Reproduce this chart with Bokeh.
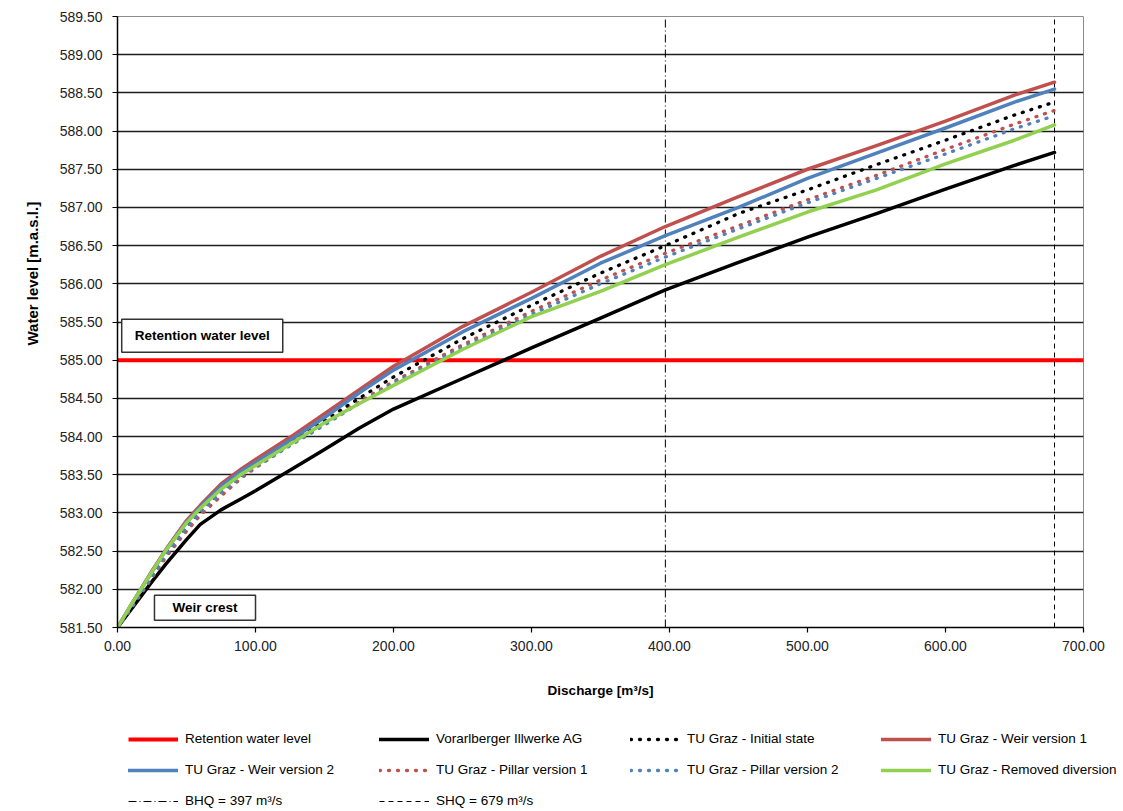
from bokeh.plotting import figure
from bokeh.layouts import column
from bokeh.models import (Range1d, FixedTicker, NumeralTickFormatter, Legend,
                          LegendItem, Label, Title)
from bokeh.embed import file_html
from bokeh.resources import INLINE

# ---------------- data ----------------
discharge = [0, 10, 25, 35, 50, 60, 75, 90, 100, 125, 150, 175, 200,
             250, 300, 350, 397, 450, 500, 550, 600, 650, 679]

vorarlberger = [581.50, 581.74, 582.10, 582.33, 582.65, 582.85, 583.04, 583.19, 583.29, 583.56,
                583.83, 584.11, 584.36,
                584.76, 585.16, 585.55, 585.92, 586.28, 586.61, 586.92, 587.24, 587.55, 587.72]
initial_state = [581.50, 581.78, 582.20, 582.47, 582.82, 583.02, 583.28, 583.49, 583.62, 583.92,
                 584.21, 584.50, 584.78,
                 585.28, 585.72, 586.14, 586.50, 586.92, 587.23, 587.56, 587.88, 588.21, 588.38]
weir_v1 = [581.50, 581.80, 582.24, 582.52, 582.90, 583.10, 583.38, 583.58, 583.70, 583.99,
           584.30, 584.61, 584.92,
           585.44, 585.89, 586.36, 586.75, 587.14, 587.50, 587.81, 588.13, 588.47, 588.64]
weir_v2 = [581.50, 581.80, 582.23, 582.51, 582.88, 583.08, 583.35, 583.55, 583.66, 583.95,
           584.25, 584.57, 584.87,
           585.37, 585.81, 586.27, 586.63, 587.00, 587.38, 587.71, 588.04, 588.38, 588.55]
pillar_v1 = [581.50, 581.75, 582.15, 582.42, 582.76, 582.97, 583.22, 583.46, 583.59, 583.89,
             584.17, 584.45, 584.72,
             585.20, 585.64, 586.05, 586.40, 586.76, 587.10, 587.42, 587.76, 588.09, 588.27]
pillar_v2 = [581.50, 581.76, 582.17, 582.45, 582.80, 583.01, 583.26, 583.48, 583.60, 583.88,
             584.15, 584.43, 584.70,
             585.17, 585.60, 586.00, 586.35, 586.72, 587.06, 587.38, 587.70, 588.03, 588.20]
removed_diversion = [581.50, 581.80, 582.23, 582.51, 582.87, 583.06, 583.31, 583.51, 583.62, 583.90,
                     584.18, 584.43, 584.67,
                     585.14, 585.57, 585.90, 586.25, 586.61, 586.94, 587.23, 587.57, 587.88, 588.08]

retention_level = 585.00
bhq = 397
shq = 679

series_names = ["Retention water level", "Vorarlberger Illwerke AG", "TU Graz - Initial state",
                "TU Graz - Weir version 1", "TU Graz - Weir version 2",
                "TU Graz - Pillar version 1", "TU Graz - Pillar version 2",
                "TU Graz - Removed diversion", "BHQ = 397 m³/s", "SHQ = 679 m³/s"]

x_ticks = [0, 100, 200, 300, 400, 500, 600, 700]
y_ticks = [581.5 + 0.5 * i for i in range(17)]

FONT = "Liberation Sans"

# ---------------- styles ----------------
solid = dict(line_width=3.5, line_join="round", line_cap="round")
dotted = dict(line_width=3.3, line_dash="1 8", line_cap="round", line_join="round")
styles = [
    dict(line_color="#ff0000", line_width=4),
    dict(line_color="black", **solid),
    dict(line_color="black", **dotted),
    dict(line_color="#c0504d", **solid),
    dict(line_color="#4f81bd", **solid),
    dict(line_color="#c0504d", **dotted),
    dict(line_color="#4f81bd", **dotted),
    dict(line_color="#92d050", **solid),
    dict(line_color="black", line_width=1, line_dash="8 3 1 3"),
    dict(line_color="black", line_width=1, line_dash="5 4"),
]

# ---------------- main figure ----------------
p = figure(width=1113, height=711, output_backend="svg", toolbar_location=None,
           x_range=Range1d(0, 700), y_range=Range1d(581.5, 589.5),
           min_border_left=117, min_border_top=16, min_border_right=30,
           min_border_bottom=84)
p.background_fill_color = "white"
p.border_fill_color = "white"
p.outline_line_color = "#8c8c8c"
p.outline_line_width = 1

p.xgrid.visible = False
p.ygrid.ticker = FixedTicker(ticks=y_ticks[1:-1])
p.ygrid.grid_line_color = "#1e1e1e"
p.ygrid.grid_line_width = 1.4

for ax in (p.xaxis[0], p.yaxis[0]):
    ax.axis_line_color = "black"
    ax.axis_line_width = 1.5
    ax.major_tick_line_color = "black"
    ax.major_tick_line_width = 1.2
    ax.major_tick_out = 5
    ax.major_tick_in = 0
    ax.minor_tick_line_color = None
    ax.major_label_text_font = FONT
    ax.major_label_text_font_size = "14px"
    ax.major_label_text_color = "#222222"
    ax.axis_label_text_font = FONT
    ax.axis_label_text_font_size = "13.5px"
    ax.axis_label_text_font_style = "bold"
    ax.axis_label_text_color = "black"

p.xaxis.ticker = FixedTicker(ticks=x_ticks)
p.yaxis.ticker = FixedTicker(ticks=y_ticks)
p.xaxis.formatter = NumeralTickFormatter(format="0.00")
p.yaxis.formatter = NumeralTickFormatter(format="0.00")
p.xaxis.axis_label = "Discharge [m³/s]"
p.xaxis.major_label_standoff = 8
p.xaxis.axis_label_standoff = 29
p.yaxis.major_label_standoff = 10

# y-axis title placed like the reference (a bit above the frame centre)
p.add_layout(Title(text="Water level [m.a.s.l.]", align="left", offset=282,
                   vertical_align="top",
                   text_font=FONT, text_font_size="15px", text_font_style="bold",
                   text_color="black", standoff=28), "left")

p.segment(x0=[0], y0=[retention_level], x1=[700], y1=[retention_level], **styles[0])
p.segment(x0=[bhq], y0=[581.5], x1=[bhq], y1=[589.5], **styles[8])
p.segment(x0=[shq], y0=[581.5], x1=[shq], y1=[589.5], **styles[9])

for ys, st in zip([vorarlberger, initial_state, weir_v1, weir_v2, pillar_v1, pillar_v2,
                   removed_diversion], styles[1:8]):
    p.line(discharge, ys, **st)

# annotation boxes
for txt, xx, yy, pad in [("Retention water level", 61.4, 585.32, (13, 9)),
                         ("Weir crest", 63.4, 581.76, (18, 5))]:
    p.add_layout(Label(x=xx, y=yy, text=txt, text_align="center", text_baseline="middle",
                       text_font=FONT, text_font_size="13.5px", text_font_style="bold",
                       text_color="black", background_fill_color="white",
                       border_line_color="#333333", border_line_width=1.5, padding=pad))

# ---------------- legend figure ----------------
lg = figure(width=1123, height=100, output_backend="svg", toolbar_location=None,
            x_range=Range1d(0, 1), y_range=Range1d(0, 1),
            min_border=0, x_axis_type=None, y_axis_type=None)
lg.frame_align = False
lg.outline_line_color = None
lg.xgrid.visible = False
lg.ygrid.visible = False
lg.background_fill_color = "white"
lg.border_fill_color = "white"

items = []
for name, st in zip(series_names, styles):
    r = lg.line(x=[-5, -4], y=[-5, -4], **st)
    items.append(LegendItem(label=name, renderers=[r]))

legend = Legend(items=items, ncols=4, orientation="horizontal", location=(128, 3),
                glyph_width=50, glyph_height=14, label_height=14, label_width=178,
                label_standoff=7, spacing=16, padding=0, margin=0,
                border_line_alpha=0, background_fill_alpha=0,
                label_text_font=FONT, label_text_font_size="13.5px",
                label_text_color="black")
lg.add_layout(legend, "center")

layout = column(p, lg, spacing=0)
open("out.html", "w").write(file_html(layout, INLINE))
